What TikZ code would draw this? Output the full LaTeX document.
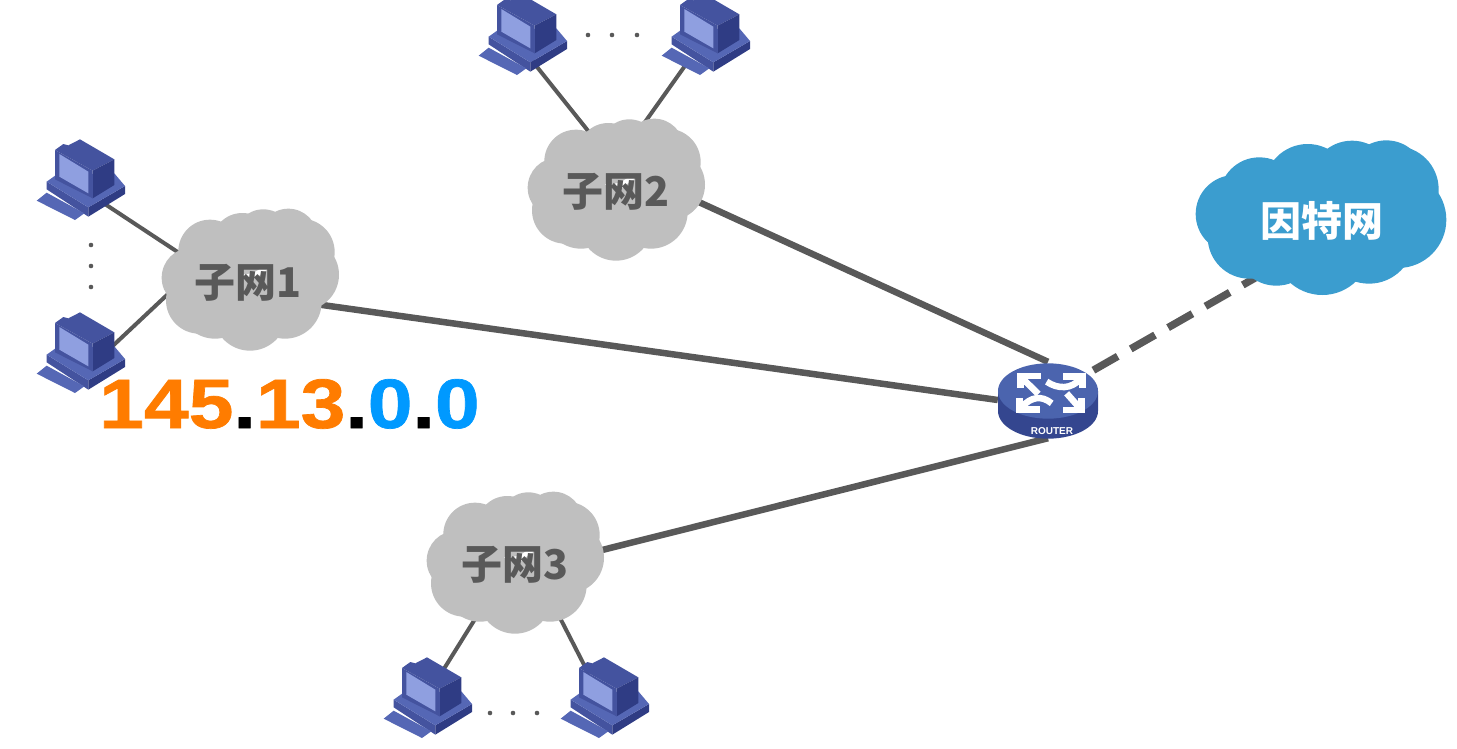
\documentclass[tikz,border=0pt]{standalone}
\usepackage{fontspec}
\setmainfont{Liberation Sans}
\newfontfamily\cjk{Noto Sans CJK SC}
\newfontfamily\addrfont{Liberation Sans}[BoldFeatures={FakeStretch=1.15,FakeBold=1}]
\usetikzlibrary{arrows.meta,backgrounds,shapes.geometric}
\definecolor{linegray}{HTML}{595959}
\definecolor{cloudgray}{HTML}{BFBFBF}
\definecolor{netblue}{HTML}{3B9DCF}
\definecolor{numorange}{HTML}{FF7C00}
\definecolor{numblue}{HTML}{0099FF}
\definecolor{pcdark}{HTML}{2F3C84}
\definecolor{pcmid}{HTML}{44539F}
\definecolor{pclight}{HTML}{5567B5}
\definecolor{pcscreen}{HTML}{8F9FE0}
\definecolor{rtop}{HTML}{4B64AE}
\definecolor{rside}{HTML}{34468F}
\tikzset{
  pcbox/.style={inner sep=0pt,minimum size=48pt},
  subnet/.style={ellipse,inner sep=0pt,minimum width=140pt,minimum height=110pt,text=linegray,font=\fontsize{41}{44}\cjk\bfseries},
  inetnode/.style={ellipse,inner sep=0pt,minimum width=200pt,minimum height=124pt,text=white,font=\fontsize{41}{44}\cjk\bfseries},
  routerbox/.style={ellipse,inner sep=0pt,minimum width=100pt,minimum height=76pt},
  routertext/.style={inner sep=0pt,text=white,font=\fontsize{10}{12}\bfseries},
  thinlink/.style={linegray,line width=4pt},
  thicklink/.style={linegray,line width=6.5pt},
  dashlink/.style={linegray,line width=7.5pt,dash pattern=on 28pt off 15pt,dash phase=34pt},
  pcicon/.pic={
    \begin{scope}[scale=1/3]
      \fill[pcmid] (-103,5) -- (22,82) -- (22,110) -- (-103,28) -- cycle;
      \fill[pcdark] (22,82) -- (132,18) -- (132,42) -- (22,110) -- cycle;
      \fill[pclight] (-103,5) -- (-75,-15) -- (100,-20) -- (132,18) -- (22,82) -- cycle;
      \fill[pclight] (-133,62) -- (-103,38) -- (10,100) -- (-18,120) -- cycle;
      \fill[pcmid] (-78,-90) -- (-53,-108) -- (-38,-104) -- (-3,-122) -- (100,-62) -- (35,-28) -- cycle;
      \fill[pcdark] (35,-28) -- (100,-62) -- (100,15) -- (35,55) -- cycle;
      \fill[pcmid] (-78,-90) -- (35,-28) -- (35,55) -- (-78,-2) -- cycle;
      \fill[pcscreen] (-65,-78) -- (22,-25) -- (22,40) -- (-65,-10) -- cycle;
    \end{scope}
  },
  graycloud/.pic={
    \begin{scope}[scale=1/3]
      \foreach \x/\y/\r in {-120/-83/95,-23/-106/92,40/-121/88,115/-123/88,154/-81/100,160/-13/107,105/69/110,0/105/110,-105/69/110,-152/64/100,-175/-4/90}
        \fill[cloudgray] (\x,\y) circle (\r);
    \end{scope}
  },
  bluecloud/.pic={
    \begin{scope}[scale=1/3]
      \foreach \x/\y/\r in {-185/-62/120,-40/-92/130,93/-107/125,196/-116/117,223/-86/130,231/5/145,144/62/135,4/86/145,-134/78/125,-215/57/125,-259/-12/117}
        \fill[netblue] (\x,\y) circle (\r);
    \end{scope}
  },
  routericon/.pic={
    \begin{scope}[scale=1/3]
      \fill[rside] (-150,-27) -- (-150,33) arc[start angle=180,end angle=0,x radius=150,y radius=83] -- (150,-27) -- cycle;
      \fill[rtop] (0,-27) ellipse[x radius=150,y radius=83];
      \begin{scope}[white,line width=6.5pt]
        \draw (-22,-72) -- (-82,-72) -- (-82,-35);
        \draw (-78,-66) -- (-29,-18);
        \draw (46,-70) -- (104,-70) -- (104,-36);
        \draw (98,-64) .. controls (70,-32) and (30,-32) .. (-4,-55);
        \draw (-86,-5) -- (-86,28) -- (-24,28);
        \draw (-80,22) .. controls (-50,-10) and (-20,-15) .. (11,10);
        \draw (101,-5) -- (101,30) -- (46,30);
        \draw (95,24) -- (56,-20);
      \end{scope}
    \end{scope}
  }
}
\begin{document}
\begin{tikzpicture}[x=1pt,y=-1pt,>=Stealth]
  \useasboundingbox (0,0) rectangle (1457,748);
  % computers
  \foreach \name/\x/\y in {pcla/81/180,pclb/81/353,pcta/523/35,pctb/706/35,pcba/428/698,pcbb/605/698}{
    \node[pcbox] (\name) at (\x,\y) {};
    \pic at (\name) {pcicon};
  }
  % clouds
  \pic at (250,279) {graycloud};
  \pic at (616,189) {graycloud};
  \pic at (515,562) {graycloud};
  \pic at (1321,218) {bluecloud};
  \node[subnet] (subone) at (248,283) {子网1};
  \node[subnet] (subtwo) at (616,192) {子网2};
  \node[subnet] (subthree) at (515,565) {子网3};
  \node[inetnode] (inet) at (1322,221) {因特网};
  % router
  \node[routerbox] (router) at (1048,400) {};
  \pic at (router) {routericon};
  \node[routertext] (routerlabel) at (1052,431) {ROUTER};
  % links
  \begin{scope}[on background layer]
    \draw[thinlink] (pcla.south east) -- (subone.157);
    \draw[thinlink] (pclb.east) -- (subone.185);
    \draw[thinlink] (pcta.-72) -- (subtwo.112);
    \draw[thinlink] (pctb.236) -- (subtwo.72);
    \draw[thinlink] (pcba.62) -- (subthree.233);
    \draw[thinlink] (pcbb.124) -- (subthree.-48);
    \draw[thicklink] (subone.-17) -- (router.west);
    \draw[thicklink] (subtwo.-5) -- (router.north);
    \draw[thicklink] (subthree.9) -- (router.south);
    \draw[dashlink] (router.34) -- (inet.222);
  \end{scope}
  % dots
  \foreach \x/\y in {91/245,91/266,91/287,588/35,612/35,637/35,490/713,513/713,537/713}
    \fill[linegray] (\x,\y) circle (2.3pt);
  % address
  \node[inner sep=0pt,anchor=base west,font=\fontsize{70}{72}\addrfont\bfseries] (addr) at (99,428)
    {\color{numorange}145\color{black}.\color{numorange}13\color{black}.\color{numblue}0\color{black}.\color{numblue}0};
\end{tikzpicture}
\end{document}
